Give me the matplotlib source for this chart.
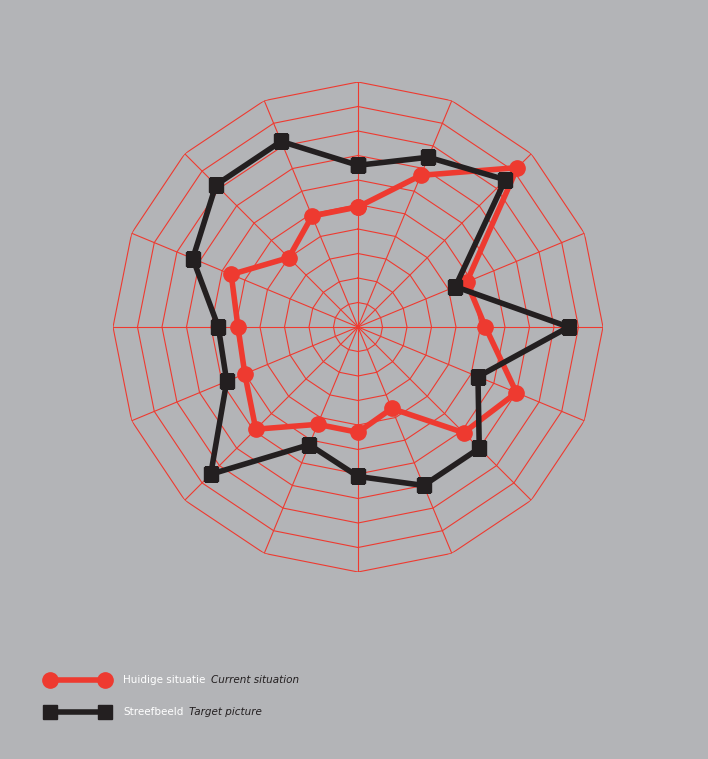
import matplotlib.pyplot as plt
import numpy as np

names = ["Knooppunt", "Ontmoeting", "Grachtenstad", "Hoofdstad", "Zakenstad",
         "Sex, drugs, R&R", "Mensen", "Leefbare stad", "Architectuur", "Compacte stad",
         "Kunstzinnige stad", "Uitgaansstad", "Winkelstad", "Evenementen stad",
         "Kennisstad", "Woonstad"]
english = ["Hub function", "Meeting place", "City of canals", "Capital", "Business city",
           "Sex, drugs, R&R", "People", "Liveble city", "Architecture", "Compact city",
           "Artistic city", "Night life", "Shopping city", "City of events",
           "City of knowledge", "Residential city"]
current = [4.9, 6.7, 9.2, 4.8, 5.2, 7.0, 6.1, 3.6, 4.3, 4.3, 5.9, 5.0, 4.9, 5.6, 4.0, 4.9]
target = [6.6, 7.5, 8.5, 4.3, 8.6, 5.3, 7.0, 7.0, 6.1, 5.2, 8.5, 5.8, 5.7, 7.3, 8.2, 8.2]

bg = "#b3b4b7"
red = "#ee3a30"
dark = "#231f20"

fig = plt.figure(figsize=(7.08, 7.59), dpi=100, facecolor=bg)
ax = fig.add_axes([113/708, 187/759, 490/708, 490/759], projection="polar")
ax.set_facecolor("none")
ax.set_theta_zero_location("N")
ax.set_theta_direction(-1)
ax.set_ylim(0, 10)
ax.axis("off")

n = len(names)
ang = np.arange(n) * 2 * np.pi / n
closed = np.append(ang, ang[0])

# polygon grid
for r in range(1, 11):
    ax.plot(closed, [r] * (n + 1), color=red, lw=0.8)
for a in ang:
    ax.plot([a, a], [0, 10], color=red, lw=0.8)

ax.plot(closed, current + current[:1], color=red, lw=4, marker="o", ms=11, zorder=3)
ax.plot(closed, target + target[:1], color=dark, lw=4, marker="s", ms=10, zorder=4)

labels = []
for a, nm, en in zip(ang, names, english):
    t1 = ax.annotate(nm, (a, 10.45), xytext=(0, 1), textcoords="offset pixels",
                     color="white", fontsize=8, ha="center", va="bottom")
    t2 = ax.annotate(en, (a, 10.45), xytext=(0, -1), textcoords="offset pixels",
                     color="white", fontsize=8, style="italic", ha="center", va="top")
    labels.append((a, t1, t2))

# shift each two-line label outward so its block sits beside the web
fig.canvas.draw()
rend = fig.canvas.get_renderer()
for a, t1, t2 in labels:
    w = max(t1.get_window_extent(rend).width, t2.get_window_extent(rend).width)
    h = t1.get_window_extent(rend).height
    dx = np.sin(a) * w / 2
    dy = np.cos(a) * h
    t1.xyann = (dx, 1 + dy)
    t2.xyann = (dx, -1 + dy)

# legend
fig.lines.append(plt.Line2D([50/708, 105/708], [1 - 680/759] * 2, color=red, lw=4,
                            marker="o", ms=11, transform=fig.transFigure))
fig.lines.append(plt.Line2D([50/708, 105/708], [1 - 712/759] * 2, color=dark, lw=4,
                            marker="s", ms=10, transform=fig.transFigure))
fig.text(123/708, 1 - 680/759, "Huidige situatie", color="white", fontsize=7.5, va="center")
fig.text(211/708, 1 - 680/759, "Current situation", color=dark, fontsize=7.5,
         style="italic", va="center")
fig.text(123/708, 1 - 712/759, "Streefbeeld", color="white", fontsize=7.5, va="center")
fig.text(189/708, 1 - 712/759, "Target picture", color=dark, fontsize=7.5,
         style="italic", va="center")

fig.savefig("out.png", dpi=100, facecolor=bg)
